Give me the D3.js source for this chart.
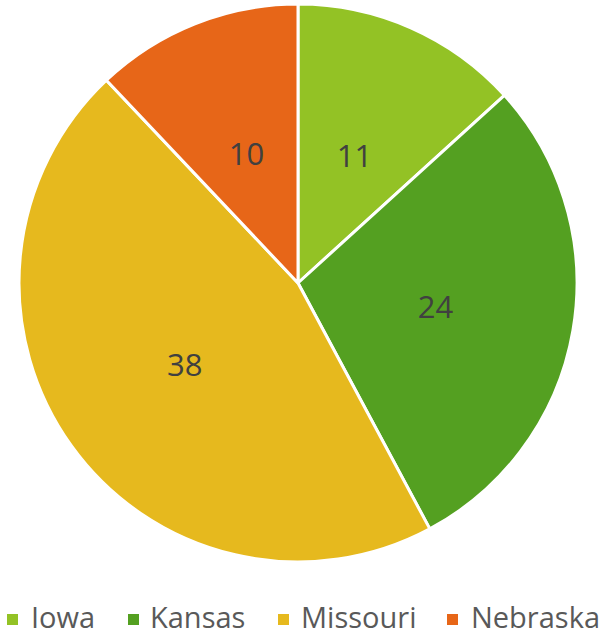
<!DOCTYPE html>
<html>
<head>
<meta charset="utf-8">
<script src="https://cdn.jsdelivr.net/npm/d3@7"></script>
<style>
  body { margin: 0; background: #fff; }
  svg { display: block; font-family: "Open Sans", "DejaVu Sans", sans-serif; }
</style>
</head>
<body>
<svg width="605" height="635"></svg>
<script>
const states = ["Iowa", "Kansas", "Missouri", "Nebraska"];
const counts = [11, 24, 38, 10];
const colors = ["#93c225", "#54a021", "#e6b91e", "#e76618"];

const svg = d3.select("svg");
const cx = 298, cy = 283, radius = 279;

const pie = d3.pie().sort(null).value(d => d.value);
const arc = d3.arc().innerRadius(0).outerRadius(radius);
const labelArc = d3.arc().innerRadius(radius * 0.5).outerRadius(radius * 0.5);
const color = d3.scaleOrdinal().domain(states).range(colors);

const data = states.map((s, i) => ({ name: s, value: counts[i] }));

const g = svg.append("g").attr("transform", `translate(${cx},${cy})`);

g.selectAll("path.slice")
  .data(pie(data))
  .enter().append("path")
    .attr("class", "slice")
    .attr("d", arc)
    .attr("fill", d => color(d.data.name))
    .attr("stroke", "#fff")
    .attr("stroke-width", 3)
    .attr("stroke-linejoin", "round");

g.selectAll("text.lbl")
  .data(pie(data))
  .enter().append("text")
    .attr("class", "lbl")
    .attr("transform", d => `translate(${labelArc.centroid(d)})`)
    .attr("text-anchor", "middle")
    .attr("dy", "0.36em")
    .attr("fill", "#404040")
    .attr("font-size", 31)
    .text(d => d.data.value);

// legend
const squareX = [7, 128, 278, 447];
const textX = [31, 150, 301, 471];
const legend = svg.append("g");
const items = legend.selectAll("g")
  .data(data)
  .enter().append("g");

items.append("rect")
  .attr("x", (d, i) => squareX[i]).attr("y", 614)
  .attr("width", 11).attr("height", 11)
  .attr("fill", d => color(d.name));

items.append("text")
  .attr("x", (d, i) => textX[i])
  .attr("y", 628)
  .attr("fill", "#595959")
  .attr("font-size", 29)
  .text(d => d.name);
</script>
</body>
</html>
